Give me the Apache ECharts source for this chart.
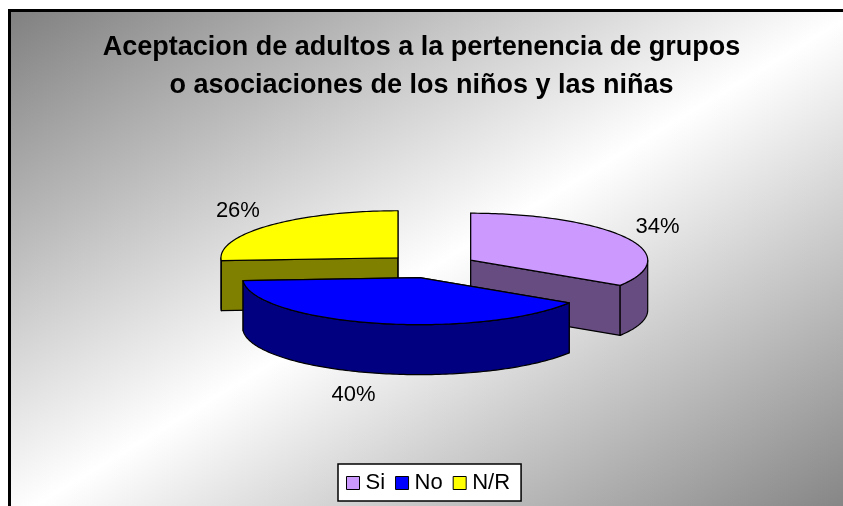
<!DOCTYPE html>
<html>
<head>
<meta charset="utf-8">
<script src="https://cdn.jsdelivr.net/npm/echarts@6/dist/echarts.min.js"></script>
<style>
  html, body { margin: 0; padding: 0; background: #ffffff; }
  #chart { width: 843px; height: 506px; }
</style>
</head>
<body>
<div id="chart"></div>
<script>
// Survey answers and their shares
const categories = ['Si', 'No', 'N/R'];
const values = [34, 40, 26];
const topColors = ['#CC99FF', '#0000FF', '#FFFF00'];
const sideColors = ['#664C80', '#000080', '#808000'];
const titleLines = ['Aceptacion de adultos a la pertenencia de grupos', 'o asociaciones de los niños y las niñas'];

// 3D pie layout
const PIE = { cx: 431, cy: 266, rx: 177, ry: 47, depth: 50, explode: 0.256 };
const FONT = '"Liberation Sans", Arial, sans-serif';
// plot frame (runs past the right and bottom edges of the page)
const FRAME = { x: 9.5, y: 10.5, w: 850, h: 510 };

const total = values.reduce((a, b) => a + b, 0);
const TAU = Math.PI * 2;

function sliceGeom(i) {
  let before = 0;
  for (let k = 0; k < i; k++) before += values[k];
  const start = before / total * TAU;
  const end = (before + values[i]) / total * TAU;
  const mid = (start + end) / 2;
  const ox = PIE.cx + PIE.explode * PIE.rx * Math.sin(mid);
  const oy = PIE.cy - PIE.explode * PIE.ry * Math.cos(mid);
  return { start, end, mid, ox, oy };
}

function makeRender(i) {
  return function (params, api) {
    const g = sliceGeom(i);
    const pt = (a, dz) => [g.ox + PIE.rx * Math.sin(a), g.oy - PIE.ry * Math.cos(a) + dz];
    const arc = (a0, a1, dz) => {
      const n = Math.max(2, Math.ceil(Math.abs(a1 - a0) / 0.02));
      const out = [];
      for (let k = 0; k <= n; k++) out.push(pt(a0 + (a1 - a0) * k / n, dz));
      return out;
    };
    const edge = { stroke: '#000', lineWidth: 1.2, lineJoin: 'round' };
    const children = [];
    // radial cut faces
    [g.start, g.end].forEach(a => {
      const p = pt(a, 0);
      children.push({
        type: 'polygon',
        shape: { points: [[g.ox, g.oy], p, [p[0], p[1] + PIE.depth], [g.ox, g.oy + PIE.depth]] },
        style: Object.assign({ fill: sideColors[i] }, edge)
      });
    });
    // outer wall, front half only
    const w0 = Math.max(g.start, Math.PI / 2);
    const w1 = Math.min(g.end, Math.PI * 1.5);
    if (w1 > w0) {
      children.push({
        type: 'polygon',
        shape: { points: arc(w0, w1, 0).concat(arc(w1, w0, PIE.depth)) },
        style: Object.assign({ fill: sideColors[i] }, edge)
      });
    }
    // top face
    children.push({
      type: 'polygon',
      shape: { points: [[g.ox, g.oy]].concat(arc(g.start, g.end, 0)) },
      style: Object.assign({ fill: topColors[i] }, edge)
    });
    // percentage label
    const up = Math.cos(g.mid) > 0;
    const anchor = pt(g.mid, up ? 0 : PIE.depth);
    const dx = PIE.rx * Math.sin(g.mid), dy = -PIE.ry * Math.cos(g.mid);
    const len = Math.hypot(dx, dy);
    const gap = 12, w = 40, h = 20;
    children.push({
      type: 'text',
      x: anchor[0] + dx / len * (gap + w / 2),
      y: anchor[1] - Math.cos(g.mid) * (gap + h / 2),
      style: {
        text: Math.round(values[i] / total * 100) + '%',
        fill: '#000', font: '22px ' + FONT,
        align: 'center', verticalAlign: 'middle'
      }
    });
    return { type: 'group', children };
  };
}

// back-to-front drawing order by slice centre depth
const order = categories.map((c, i) => i).sort((a, b) => sliceGeom(a).oy - sliceGeom(b).oy);

const series = categories.map((name, i) => ({
  type: 'custom',
  name,
  z: 2 + order.indexOf(i),
  coordinateSystem: 'none',
  itemStyle: { color: topColors[i] },
  silent: true,
  data: [values[i]],
  renderItem: makeRender(i)
}));

// diagonal grey-white-grey fill: white band along the frame's anti-diagonal
const fcx = FRAME.x + FRAME.w / 2, fcy = FRAME.y + FRAME.h / 2;
const fnorm = Math.hypot(FRAME.w, FRAME.h);
const ux = FRAME.h / fnorm, uy = FRAME.w / fnorm;
const half = FRAME.w * FRAME.h / fnorm;
const bgFill = new echarts.graphic.LinearGradient(
  fcx - ux * half, fcy - uy * half, fcx + ux * half, fcy + uy * half,
  [
    { offset: 0, color: '#808080' },
    { offset: 0.5, color: '#ffffff' },
    { offset: 1, color: '#808080' }
  ],
  true
);

const chart = echarts.init(document.getElementById('chart'), null, { renderer: 'canvas' });
chart.setOption({
  animation: false,
  backgroundColor: '#ffffff',
  graphic: [{
    type: 'rect',
    z: 0,
    shape: { x: FRAME.x, y: FRAME.y, width: FRAME.w, height: FRAME.h },
    style: { fill: bgFill, stroke: '#000', lineWidth: 3 }
  }],
  title: {
    text: titleLines.join('\n'),
    left: 'center',
    top: 24,
    textStyle: { fontSize: 27, fontWeight: 'bold', fontFamily: FONT, color: '#000', lineHeight: 38 }
  },
  legend: {
    data: categories,
    left: 338,
    top: 464,
    orient: 'horizontal',
    icon: 'rect',
    itemWidth: 13,
    itemHeight: 13,
    itemGap: 10,
    padding: [8, 11, 7, 8],
    backgroundColor: '#ffffff',
    borderColor: '#000',
    borderWidth: 1.5,
    selectedMode: false,
    itemStyle: { borderColor: '#000', borderWidth: 1 },
    textStyle: { fontSize: 22, fontFamily: FONT, color: '#000', padding: [0, 0, 0, 1] }
  },
  series
});
</script>
</body>
</html>
